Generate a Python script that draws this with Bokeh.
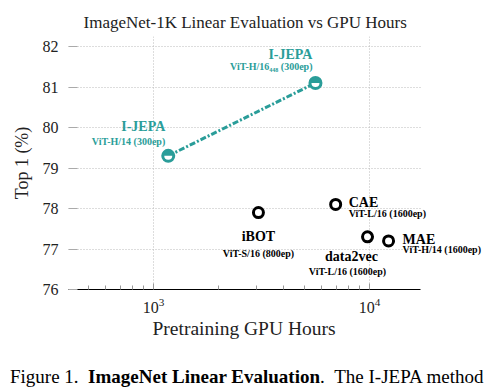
import math
from bokeh.plotting import figure
from bokeh.models import Label, FixedTicker, Div, Grid, Title
from bokeh.layouts import column
from bokeh.embed import file_html
from bokeh.resources import INLINE

# ---- data ----
methods = ["I-JEPA", "I-JEPA", "iBOT", "CAE", "data2vec", "MAE"]
archs = ["ViT-H/14 (300ep)", "ViT-H/16\u2084\u2084\u2088 (300ep)", "ViT-S/16 (800ep)",
         "ViT-L/16 (1600ep)", "ViT-L/16 (1600ep)", "ViT-H/14 (1600ep)"]
gpu_hours = [1170, 5620, 3060, 6970, 9790, 12250]
top1 = [79.3, 81.1, 77.9, 78.1, 77.3, 77.2]
y_ticks = [76, 77, 78, 79, 80, 81, 82]
x_major = [1000, 10000]
x_minor = [400, 500, 600, 700, 800, 900, 2000, 3000, 4000, 5000, 6000, 7000, 8000, 9000]
x_axis_extent = (404, 17220)      # visible axis line extent
x_view_end = 37100                # frame extends beyond the axis so labels are not clipped

TEAL = "#2a9d99"
SERIF = "Liberation Serif"

p = figure(width=500, height=350, x_axis_type="log",
           x_range=(x_axis_extent[0], x_view_end), y_range=(76, 82.247),
           output_backend="svg", toolbar_location=None,
           min_border_left=68, min_border_right=8,
           min_border_top=36, min_border_bottom=61)
p.outline_line_color = None
p.background_fill_color = "white"
p.border_fill_color = "white"

p.title.text = "ImageNet-1K Linear Evaluation vs GPU Hours"
p.title.align = "left"
p.title.offset = 15
p.title.text_font = SERIF
p.title.text_font_size = "17px"
p.title.text_font_style = "normal"
p.title.text_color = "#222222"

# axes
p.xaxis.bounds = x_axis_extent
p.xaxis.ticker = FixedTicker(ticks=x_major, minor_ticks=x_minor)
p.xaxis.axis_line_color = "black"
p.xaxis.axis_line_width = 1.2
p.xaxis.major_tick_in = 6
p.xaxis.major_tick_out = 0
p.xaxis.minor_tick_in = 4
p.xaxis.minor_tick_out = 0
p.xaxis.major_tick_line_color = "#999999"
p.xaxis.minor_tick_line_color = "#999999"
p.xaxis.major_label_standoff = 8
p.xaxis.major_label_text_font = SERIF
p.xaxis.major_label_text_font_size = "16px"
p.xaxis.major_label_text_color = "#222222"

# x axis title, aligned to the visible axis extent
p.add_layout(Title(text="Pretraining GPU Hours", align="left", offset=84,
                   text_font=SERIF, text_font_size="19.5px", text_font_style="normal",
                   text_color="#222222", standoff=1), "below")

p.yaxis.ticker = FixedTicker(ticks=y_ticks)
p.yaxis.axis_line_color = None
p.yaxis.major_tick_in = 9
p.yaxis.major_tick_out = 0
p.yaxis.major_tick_line_color = "#aaaaaa"
p.yaxis.minor_tick_line_color = None
p.yaxis.major_label_standoff = 10
p.yaxis.major_label_text_font = SERIF
p.yaxis.major_label_text_font_size = "16px"
p.yaxis.major_label_text_color = "#222222"
p.yaxis.axis_label = "Top 1 (%)"
p.yaxis.axis_label_text_font = SERIF
p.yaxis.axis_label_text_font_size = "18px"
p.yaxis.axis_label_text_font_style = "normal"
p.yaxis.axis_label_text_color = "#222222"
p.yaxis.axis_label_standoff = 8

for g in (p.xgrid, p.ygrid):
    g.grid_line_color = "#bbbbbb"
    g.grid_line_dash = "1 2"
    g.grid_line_width = 1
if "cross_bounds" in Grid.properties():
    p.ygrid.cross_bounds = x_axis_extent

# I-JEPA line
p.line(gpu_hours[:2], top1[:2], line_color=TEAL, line_width=3, line_dash="6 2 2 2")

# I-JEPA markers: ring with upper half filled
p.scatter(gpu_hours[:2], top1[:2], size=11, marker="circle",
          fill_color="white", line_color=TEAL, line_width=3)
p.wedge(gpu_hours[:2], top1[:2], radius=5.5, radius_units="screen",
        start_angle=0, end_angle=math.pi, fill_color=TEAL, line_color=None)

# other methods
p.scatter(gpu_hours[2:], top1[2:], size=10, marker="circle",
          fill_color="white", line_color="black", line_width=3)

# labels: (index, align, x_off, title_y_off, sub_x_off, sub_y_off, color)
# offsets in screen px, y_off positive = downward
label_spec = [
    (0, "right", -3, -29, -3, -14, TEAL),
    (1, "right", -3, -28, -3, -16, TEAL),
    (2, "center", 0, 24, 0, 41, "black"),
    (3, "left", 13, -2, 13, 9, "black"),
    (4, "center", -16, 20, -20, 35, "black"),
    (5, "left", 14, -1, 14, 9, "black"),
]
for i, align, xo, yo, sxo, syo, col in label_spec:
    p.add_layout(Label(x=gpu_hours[i], y=top1[i], text=methods[i],
                       text_font=SERIF, text_font_style="bold",
                       text_font_size="14px", text_color=col,
                       text_align=align, text_baseline="alphabetic",
                       x_offset=xo, y_offset=-yo))
    p.add_layout(Label(x=gpu_hours[i], y=top1[i], text=archs[i],
                       text_font=SERIF, text_font_style="bold",
                       text_font_size="10px", text_color=col,
                       text_align=align, text_baseline="alphabetic",
                       x_offset=sxo, y_offset=-syo))

caption = Div(text="Figure 1.&nbsp;&nbsp;<b>ImageNet Linear Evaluation</b>.&nbsp;&nbsp;The I-JEPA method",
              width=482, height=42, margin=(0, 0, 0, 10),
              styles={"font-family": "Liberation Serif", "font-size": "19px",
                      "text-align": "justify", "text-align-last": "justify",
                      "line-height": "19px", "padding-top": "17px",
                      "color": "black", "white-space": "nowrap"})

layout = column(p, caption, spacing=0)
open("out.html", "w").write(file_html(layout, INLINE))
